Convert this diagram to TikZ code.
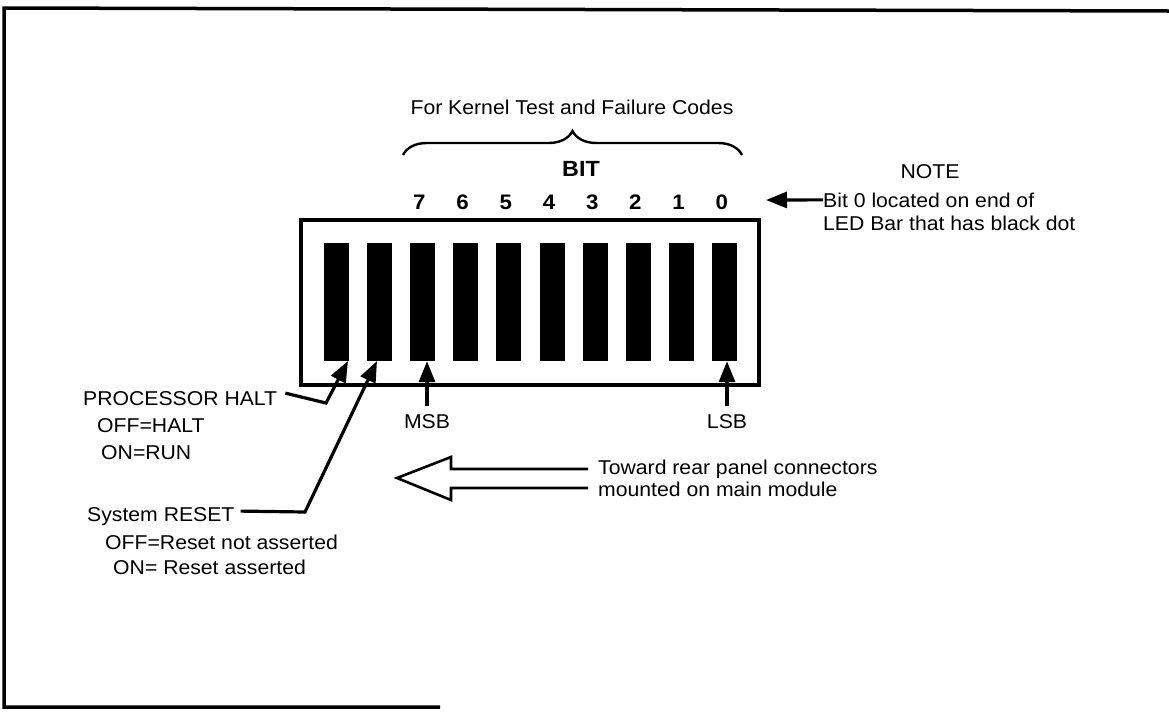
\documentclass[tikz,border=0pt]{standalone}
\usepackage{fontspec}
\setmainfont[FakeStretch=1.06]{Liberation Sans}
\usetikzlibrary{arrows.meta,decorations.pathreplacing}
\begin{document}
\begin{tikzpicture}[x=1pt,y=-1pt,
  txt/.style={font=\fontsize{20}{24}\selectfont, inner sep=0pt},
  bnum/.style={font=\fontsize{21}{24}\selectfont\bfseries, inner sep=0pt},
  bar/.style={fill=black, draw=none, minimum width=25pt, minimum height=118pt, inner sep=0pt},
  arr/.style={line width=3.2pt, line join=miter, -{Triangle[length=21pt,width=16pt]}},
  ]
\useasboundingbox (0,0) rectangle (1169,713);
% frame
\draw[line width=3.5pt] (1169,11) -- (4,8) -- (4,707) -- (440,707);

% LED bar box
\node[draw, line width=4.8pt, minimum width=458pt, minimum height=165pt, inner sep=0pt] (lcd) at (530,302.5) {};
\foreach \i in {0,...,9}
  \node[bar] (b\i) at ({336+43.2*\i},302) {};

% bit numbers
\foreach \d [count=\k from 2] in {7,6,5,4,3,2,1,0}
  \node[bnum, anchor=base] (d\d) at ({336+43.2*\k-3},209) {\d};
\node[bnum, font=\fontsize{22}{24}\selectfont\bfseries, anchor=base] (bit) at (581,176) {BIT};

% brace and title
\draw[line width=2.4pt, decorate, decoration={brace, amplitude=24pt}] (403,155) -- (742,155);
\node[txt, anchor=base] (title) at (572,114) {For Kernel Test and Failure Codes};

% note
\node[txt, anchor=base] (note) at (930,178) {NOTE};
\node[txt, anchor=base west] (n1) at (823,207) {Bit 0 located on end of};
\node[txt, anchor=base west] (n2) at (823,230) {LED Bar that has black dot};
\coordinate (tipN) at (766,200);
\draw[arr] (n1.west) -- (tipN);

% MSB / LSB
\node[txt, anchor=base] (msb) at (427,428) {MSB};
\node[txt, anchor=base] (lsb) at (727,428) {LSB};
\draw[arr] ([yshift=8pt]msb.north) -- (msb.north |- b2.south);
\draw[arr] ([yshift=8pt]lsb.north) -- (lsb.north |- b9.south);

% processor halt
\node[txt, anchor=base west] (halt) at (83,405) {PROCESSOR HALT};
\node[txt, anchor=base west] (halt1) at (97,432) {OFF=HALT};
\node[txt, anchor=base west] (halt2) at (101,459) {ON=RUN};
\coordinate (haltK) at (326,403);
\coordinate (haltTip) at (348,361);
\draw[arr] ([shift={(8,-5)}]halt.east) -- (haltK) -- (haltTip);

% system reset
\node[txt, anchor=base west] (reset) at (87,521) {System RESET};
\node[txt, anchor=base west] (reset1) at (105,549) {OFF=Reset not asserted};
\node[txt, anchor=base west] (reset2) at (113,574) {ON= Reset asserted};
\coordinate (resetK) at (305,512);
\coordinate (resetTip) at (377,361);
\draw[arr] ([shift={(6,-5)}]reset.east) -- (resetK) -- (resetTip);

% hollow arrow
\draw[line width=2.6pt, line join=miter] (588,469) -- (451,469) -- (451,457) -- (397,478) -- (451,500) -- (451,488) -- (588,488);
\node[txt, anchor=base west] (tw1) at (598,474) {Toward rear panel connectors};
\node[txt, anchor=base west] (tw2) at (598,496) {mounted on main module};
\end{tikzpicture}
\end{document}
